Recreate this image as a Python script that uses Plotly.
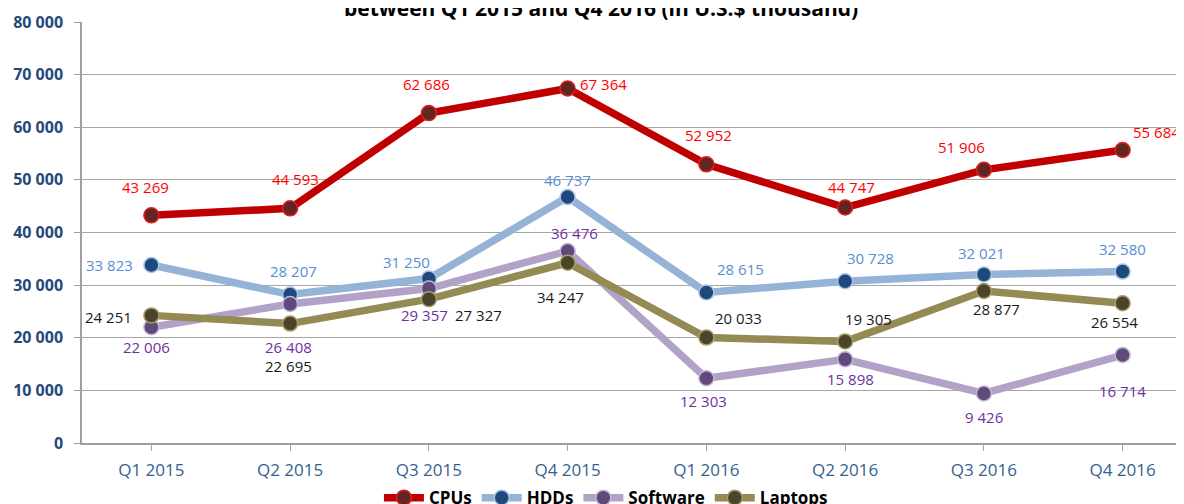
import plotly.graph_objects as go

quarters = ["Q1 2015", "Q2 2015", "Q3 2015", "Q4 2015", "Q1 2016", "Q2 2016", "Q3 2016", "Q4 2016"]
cpus = [43269, 44593, 62686, 67364, 52952, 44747, 51906, 55684]
hdds = [33823, 28207, 31250, 46737, 28615, 30728, 32021, 32580]
software = [22006, 26408, 29357, 36476, 12303, 15898, 9426, 16714]
laptops = [24251, 22695, 27327, 34247, 20033, 19305, 28877, 26554]
y_ticks = [0, 10000, 20000, 30000, 40000, 50000, 60000, 70000, 80000]
title_text = "between Q1 2015 and Q4 2016 (in U.S.$ thousand)"

# label offsets (px): dx right, dy down
cpu_off = [(-6, -28), (5, -29), (-2, -29), (36, -5), (2, -29), (6, -21), (-22, -23), (34, -18)]
hdd_off = [(-42, 0), (3, -24), (-22, -17), (0, -17), (34, -23), (25, -23), (-2, -21), (0, -23)]
sw_off = [(-5, 20), (-2, 43), (-4, 26), (7, -18), (-3, 23), (5, 20), (0, 24), (0, 36)]
lap_off = [(-43, 2), (-2, 42), (50, 16), (-7, 34), (32, -20), (23, -22), (13, 18), (-8, 19)]

series = [
    ("CPUs", cpus, "#C00000", "#632523", "#E02020", "#FF0000", cpu_off),
    ("HDDs", hdds, "#95B3D7", "#1F497D", "#A9C4E4", "#558ED5", hdd_off),
    ("Software", software, "#B3A2C7", "#604A7B", "#C4B6D6", "#7030A0", sw_off),
    ("Laptops", laptops, "#948A54", "#4A452A", "#A89E66", "#1A1A1A", lap_off),
]

fig = go.Figure()
annotations = []
xs = list(range(len(quarters)))
for name, vals, lc, mc, mlc, tc, offs in series:
    fig.add_trace(go.Scatter(
        x=xs, y=vals, name=name, mode="lines+markers",
        line=dict(color=lc, width=7.5),
        marker=dict(size=15, color=mc, line=dict(color=mlc, width=1.5)),
        cliponaxis=False,
    ))
    for i, v in enumerate(vals):
        dx, dy = offs[i]
        annotations.append(dict(
            x=xs[i], y=v, xref="x", yref="y",
            text=f"{v:,}".replace(",", " "),
            showarrow=False, xshift=dx, yshift=-dy,
            font=dict(family="Open Sans", size=15, color=tc),
        ))

annotations.append(dict(
    x=0.468, y=1.034, xref="paper", yref="paper", xanchor="center", yanchor="middle",
    text=f"<b>{title_text}</b>", showarrow=False,
    font=dict(family="Open Sans", size=21, color="#000000"),
))

fig.update_layout(
    width=1184, height=504,
    margin=dict(l=74, r=0, t=14, b=69, autoexpand=False),
    paper_bgcolor="white", plot_bgcolor="white",
    separators=". ",
    showlegend=True,
    legend=dict(
        orientation="h", x=0.472, xanchor="center", y=-0.131, yanchor="middle",
        font=dict(family="Open Sans", size=17, color="#000000", weight="bold"),
        itemwidth=40, tracegroupgap=0, bgcolor="rgba(0,0,0,0)",
    ),
    annotations=annotations,
    xaxis=dict(
        tickmode="array", tickvals=xs, ticktext=quarters,
        range=[-0.5, 7.5], showgrid=False, zeroline=False,
        showline=True, linecolor="#A0A0A0", linewidth=1.5,
        ticks="outside", ticklen=6, tickcolor="#A0A0A0",
        ticklabelstandoff=5,
        tickfont=dict(family="Open Sans", size=17, color="#365F91"),
    ),
    yaxis=dict(
        range=[0, 80000], tickvals=y_ticks, tickformat=",d",
        showgrid=True, gridcolor="#A6A6A6", gridwidth=1, zeroline=False,
        showline=True, linecolor="#A0A0A0", linewidth=1.5,
        ticks="outside", ticklen=6, tickcolor="#A0A0A0",
        ticklabelstandoff=8,
        tickfont=dict(family="Open Sans", size=16, color="#24497A", weight="bold"),
    ),
)

fig.write_html("out.html")
